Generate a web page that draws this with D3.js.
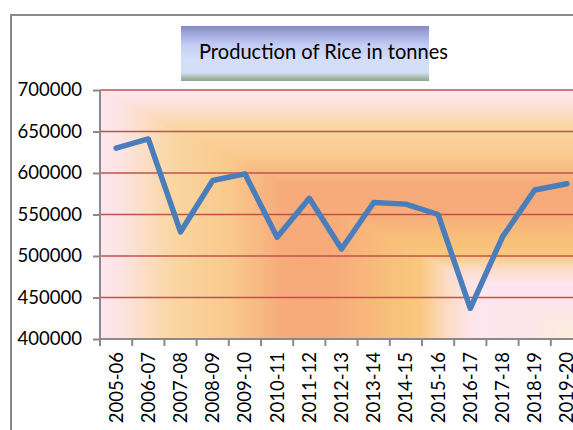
<!DOCTYPE html>
<html>
<head>
<meta charset="utf-8">
<script src="https://cdn.jsdelivr.net/npm/d3@7"></script>
<style>
  html, body { margin: 0; padding: 0; background: #ffffff; }
  svg { display: block; }
</style>
</head>
<body>
<script>
const categories = ["2005-06","2006-07","2007-08","2008-09","2009-10","2010-11","2011-12","2012-13","2013-14","2014-15","2015-16","2016-17","2017-18","2018-19","2019-20"];
const production = [630000, 641000, 529000, 591000, 599000, 522500, 569500, 508500, 564500, 562500, 550000, 437000, 523000, 579500, 587000];
const yTicks = [400000, 450000, 500000, 550000, 600000, 650000, 700000];
const titleText = "Production of Rice in tonnes";

(function () {
const W = 573, H = 430;
const svg = d3.select("body").append("svg").attr("width", W).attr("height", H);
const defs = svg.append("defs");

const pLeft = 100, pRight = 583, pTop = 90, pBottom = 339;

const x = d3.scaleBand().domain(categories).range([pLeft, pRight]).paddingInner(0).paddingOuter(0);
const y = d3.scaleLinear().domain([400000, 700000]).range([pBottom, pTop]);

// outer chart border
svg.append("rect").attr("x", 11).attr("y", 15).attr("width", 620).attr("height", 500)
  .attr("fill", "#ffffff").attr("stroke", "#898989").attr("stroke-width", 2);

// background gradient stops (rectangular gradient from top-left corner)
const stops = [
  [0, "#fde6f0"], [0.05, "#fce3df"], [0.15, "#fad6a2"], [0.27, "#f9c98c"],
  [0.38, "#f7aa7a"], [0.48, "#f7ab79"], [0.6, "#f8bf7a"], [0.66, "#f9c77c"],
  [0.72, "#fcdcc6"], [0.78, "#fde6ef"], [0.88, "#fce6e8"], [1, "#fbeedb"]
];
function makeGrad(id, horiz) {
  const g = defs.append("linearGradient").attr("id", id).attr("gradientUnits", "userSpaceOnUse");
  if (horiz) g.attr("x1", pLeft).attr("y1", 0).attr("x2", pRight).attr("y2", 0);
  else g.attr("x1", 0).attr("y1", pTop).attr("x2", 0).attr("y2", pBottom);
  stops.forEach(s => g.append("stop").attr("offset", s[0]).attr("stop-color", s[1]));
}
makeGrad("gH", true);
makeGrad("gV", false);

svg.append("rect").attr("x", pLeft).attr("y", pTop).attr("width", pRight - pLeft).attr("height", pBottom - pTop)
  .attr("fill", "url(#gV)");
svg.append("path")
  .attr("d", `M${pLeft},${pTop} L${pLeft},${pBottom} L${pRight},${pBottom} Z`)
  .attr("fill", "url(#gH)");

// gridlines
svg.append("g").selectAll("line").data(yTicks.filter(v => v > 400000)).join("line")
  .attr("x1", pLeft).attr("x2", pRight)
  .attr("y1", d => y(d)).attr("y2", d => y(d))
  .attr("stroke", "#c4504c").attr("stroke-width", 1.6);

// y axis
const yAxis = d3.axisLeft(y).tickValues(yTicks).tickSize(7).tickPadding(11).tickFormat(d3.format("d"));
const gy = svg.append("g").attr("transform", `translate(${pLeft},0)`).call(yAxis);
gy.select(".domain").attr("stroke", "#8a8a8a").attr("stroke-width", 2).attr("d", `M0,${pBottom}V${pTop}`);
gy.selectAll(".tick line").attr("stroke", "#8a8a8a").attr("stroke-width", 2);
gy.selectAll(".tick text").attr("fill", "#000").style("font-family", "Lato, 'Open Sans', sans-serif").style("font-size", "18.5px");

// x axis
const xAxis = d3.axisBottom(x).tickSize(0).tickPadding(0);
const gx = svg.append("g").attr("transform", `translate(0,${pBottom})`).call(xAxis);
gx.select(".domain").attr("stroke", "#8a8a8a").attr("stroke-width", 2).attr("d", `M${pLeft},0H${pRight}`);
gx.append("g").selectAll("line").data(categories).join("line")
  .attr("x1", d => x(d)).attr("x2", d => x(d)).attr("y1", 0).attr("y2", 7)
  .attr("stroke", "#8a8a8a").attr("stroke-width", 2);
gx.selectAll(".tick text")
  .attr("fill", "#000")
  .style("font-family", "Lato, 'Open Sans', sans-serif").style("font-size", "18.5px")
  .attr("transform", "rotate(-90)")
  .attr("text-anchor", "end")
  .attr("x", -13).attr("y", 0).attr("dy", "0.35em");

// line
const line = d3.line().x((d, i) => x(categories[i]) + x.bandwidth() / 2).y(d => y(d));
svg.append("path").datum(production).attr("d", line)
  .attr("fill", "none").attr("stroke", "#4a7ebb").attr("stroke-width", 5.5)
  .attr("stroke-linejoin", "round").attr("stroke-linecap", "round");

// title box
const tg = defs.append("linearGradient").attr("id", "tg").attr("x1", 0).attr("y1", 0).attr("x2", 0).attr("y2", 1);
[[0, "#8488c6"], [0.15, "#a3a9de"], [0.35, "#c4cdf4"], [0.6, "#d4defb"], [0.85, "#d2ddf6"], [0.92, "#b4c2b8"], [1, "#8fa38b"]]
  .forEach(s => tg.append("stop").attr("offset", s[0]).attr("stop-color", s[1]));
svg.append("rect").attr("x", 181).attr("y", 26).attr("width", 248).attr("height", 55).attr("fill", "url(#tg)");
svg.append("text").attr("x", 199).attr("y", 59).text(titleText)
  .style("font-family", "Lato, 'Open Sans', sans-serif").style("font-size", "22px").attr("fill", "#000")
  .attr("textLength", 249).attr("lengthAdjust", "spacingAndGlyphs");
})();
</script>
</body>
</html>
